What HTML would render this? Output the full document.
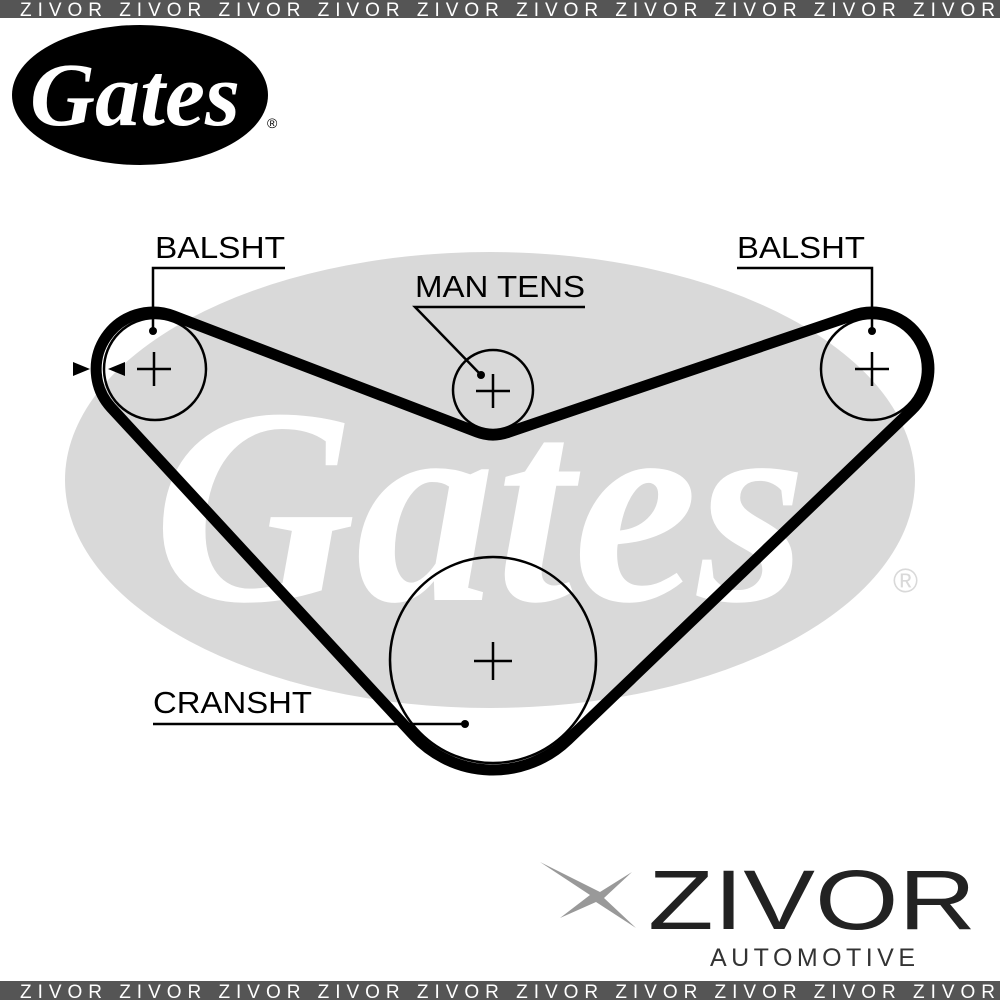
<!DOCTYPE html>
<html><head><meta charset="utf-8"><style>
html,body{margin:0;padding:0;background:#fff;width:1000px;height:1000px;overflow:hidden}
svg{display:block}
</style></head><body>
<svg width="1000" height="1000" viewBox="0 0 1000 1000" xmlns="http://www.w3.org/2000/svg">
<rect x="0" y="0" width="1000" height="18" fill="#555"/>
<rect x="0" y="981" width="1000" height="19" fill="#555"/>
<g font-family="Liberation Sans, sans-serif" font-size="19" fill="#fff">
<text x="20" y="16" textLength="975" lengthAdjust="spacing">ZIVOR   ZIVOR   ZIVOR   ZIVOR   ZIVOR   ZIVOR   ZIVOR   ZIVOR   ZIVOR   ZIVOR</text>
<text x="20" y="998" textLength="975" lengthAdjust="spacing">ZIVOR   ZIVOR   ZIVOR   ZIVOR   ZIVOR   ZIVOR   ZIVOR   ZIVOR   ZIVOR   ZIVOR</text>
</g>
<!-- top logo -->
<ellipse cx="140" cy="95" rx="128" ry="70" fill="#000"/>
<text x="135" y="125" text-anchor="middle" font-family="Liberation Serif, serif" font-style="italic" font-weight="bold" font-size="90" fill="#fff">Gates</text>
<text x="267" y="128" font-family="Liberation Sans, sans-serif" font-size="14" fill="#000">®</text>
<!-- watermark -->
<ellipse cx="490" cy="480" rx="425" ry="228" fill="#d9d9d9"/>
<text x="480" y="600" text-anchor="middle" font-family="Liberation Serif, serif" font-style="italic" font-weight="bold" font-size="280" fill="#fff">Gates</text>
<text x="893" y="592" font-family="Liberation Sans, sans-serif" font-size="34" fill="#d9d9d9">®</text>
<!-- pulleys -->
<g fill="none" stroke="#000" stroke-width="2.5">
<circle cx="155" cy="369" r="51"/>
<circle cx="493" cy="390" r="40"/>
<circle cx="872" cy="369" r="51"/>
<circle cx="493" cy="660" r="103"/>
<path d="M137 369h34M154 352v34M476 391h34M493 374v34M855 369h34M872 352v34M474 661h38M493 642v38"/>
</g>
<!-- belt -->
<path d="M173.3 315.8 L476.9 432 A45 45 0 0 0 509.1 432 L851.7 315.8 A57 57 0 0 1 911.4 410.2 L567.7 740 A108 108 0 0 1 413.6 735.2 L111.1 407.6 A57 57 0 0 1 173.3 315.8 Z" fill="none" stroke="#000" stroke-width="11" stroke-linejoin="round"/>
<!-- arrows -->
<path d="M73 362 L90 369 L73 376Z M125 362 L108 369 L125 376Z" fill="#000"/>
<!-- labels -->
<g font-family="Liberation Sans, sans-serif" font-size="31" fill="#000">
<text x="155" y="258" textLength="130" lengthAdjust="spacingAndGlyphs">BALSHT</text>
<text x="737" y="258" textLength="128" lengthAdjust="spacingAndGlyphs">BALSHT</text>
<text x="415" y="297" textLength="170" lengthAdjust="spacingAndGlyphs">MAN TENS</text>
<text x="153" y="713" textLength="159" lengthAdjust="spacingAndGlyphs">CRANSHT</text>
</g>
<g stroke="#000" stroke-width="2.5" fill="none">
<path d="M285 268H153V330"/>
<path d="M737 268H872V330"/>
<path d="M585 307H415L481 375"/>
<path d="M153 724H465"/>
</g>
<g fill="#000">
<circle cx="153" cy="331" r="4"/><circle cx="872" cy="331" r="4"/><circle cx="481" cy="375" r="4"/><circle cx="465" cy="724" r="4"/>
</g>
<!-- zivor logo -->
<path d="M540 862 L600 892 L632 872 L604 898 L636 928 L596 902 L560 918 L590 895Z" fill="#999"/>
<text x="648" y="929" font-family="Liberation Sans, sans-serif" font-size="84" fill="#222" textLength="328" lengthAdjust="spacingAndGlyphs">ZIVOR</text>
<text x="710" y="966" font-family="Liberation Sans, sans-serif" font-size="25" fill="#333" textLength="205" lengthAdjust="spacing">AUTOMOTIVE</text>
</svg>
</body></html>
